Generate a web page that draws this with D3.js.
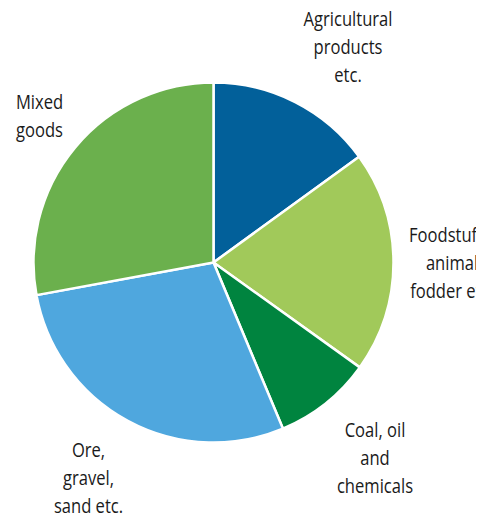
<!DOCTYPE html>
<html>
<head>
<meta charset="utf-8">
<script src="https://cdn.jsdelivr.net/npm/d3@7"></script>
<style>
  html, body { margin: 0; padding: 0; background: #fff; }
  svg { display: block; }
</style>
</head>
<body>
<svg id="chart" width="489" height="516"></svg>
<script>
// ---- data ----
const categories = [
  "Agricultural products etc.",
  "Foodstuffs, animal fodder etc.",
  "Coal, oil and chemicals",
  "Ore, gravel, sand etc.",
  "Mixed goods"
];
const labelLines = [
  ["Agricultural", "products", "etc."],
  ["Foodstuffs,", "animal", "fodder etc."],
  ["Coal, oil", "and", "chemicals"],
  ["Ore,", "gravel,", "sand etc."],
  ["Mixed", "goods"]
];
const shares = [15.0, 19.9, 8.8, 28.4, 27.9];
const colors = ["#02609a", "#a1c95a", "#00843f", "#4fa7de", "#6bb04d"];

// ---- layout ----
const W = 489, H = 516;
const cx = 213.5, cy = 262.5, R = 180;
const labelPos = [
  {x: 348, y: 26},
  {x: 452, y: 242},
  {x: 375, y: 437},
  {x: 88.5, y: 457},
  {x: 39.5, y: 109}
];
const lineH = 28.2;
const fontSize = 19.5;
const refWidth = 89; // target width of "Agricultural"

const svg = d3.select("#chart");
svg.append("defs").append("clipPath").attr("id", "clip")
  .append("rect").attr("x", 0).attr("y", 0).attr("width", 476).attr("height", H);

const pie = d3.pie().sort(null).value(d => d).startAngle(0).endAngle(2 * Math.PI);
const arc = d3.arc().innerRadius(0).outerRadius(R);

const g = svg.append("g").attr("transform", `translate(${cx},${cy})`);
g.selectAll("path").data(pie(shares)).join("path")
  .attr("d", arc)
  .attr("fill", (d, i) => colors[i])
  .attr("stroke", "#fff")
  .attr("stroke-width", 2.5)
  .attr("stroke-linejoin", "miter");

const fontFamily = "'Open Sans', sans-serif";
// measure to derive horizontal condensing factor
const probe = svg.append("text").attr("font-family", fontFamily).attr("font-size", fontSize).text("Agricultural");
const sx = refWidth / probe.node().getComputedTextLength();
probe.remove();

const lg = svg.append("g").attr("clip-path", "url(#clip)");
labelLines.forEach((lines, i) => {
  const t = lg.append("text")
    .attr("transform", `translate(${labelPos[i].x},${labelPos[i].y}) scale(${sx},1)`)
    .attr("text-anchor", "middle")
    .attr("font-family", fontFamily)
    .attr("font-size", fontSize)
    .attr("fill", "#1a1a1a");
  lines.forEach((s, j) => {
    t.append("tspan").attr("x", 0).attr("y", j * lineH).text(s);
  });
});
</script>
</body>
</html>
